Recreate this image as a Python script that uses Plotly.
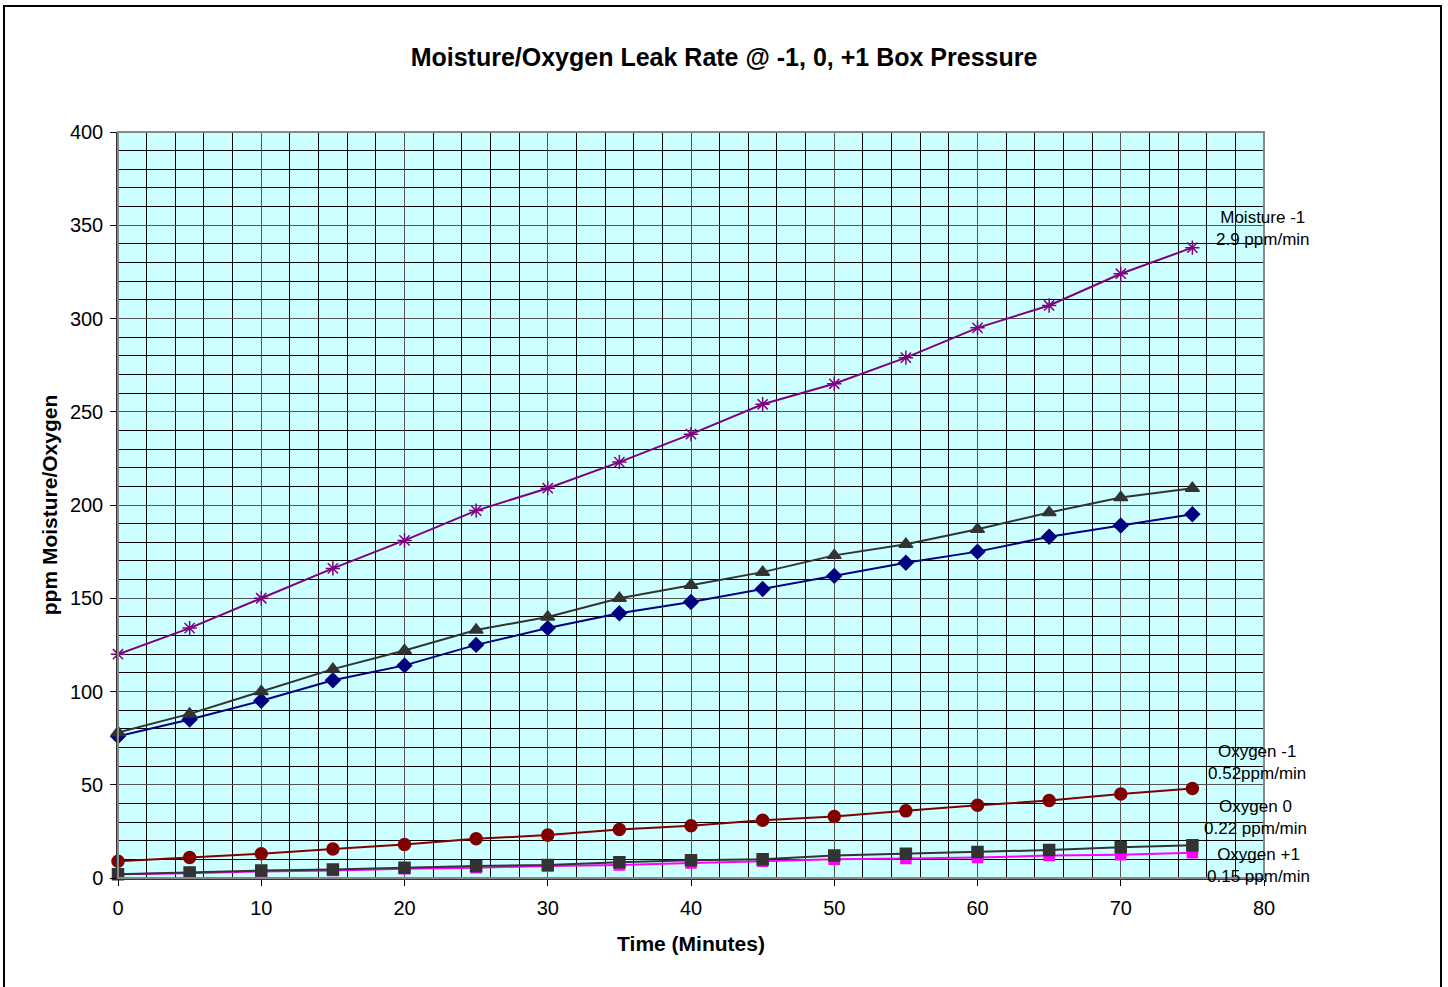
import plotly.graph_objects as go

time_min = [0, 5, 10, 15, 20, 25, 30, 35, 40, 45, 50, 55, 60, 65, 70, 75]
moisture_m1 = [120, 134, 150, 166, 181, 197, 209, 223, 238, 254, 265, 279, 295, 307, 324, 338]
moisture_0 = [78, 88, 100, 112, 122, 133, 140, 150, 157, 164, 173, 179, 187, 196, 204, 209]
moisture_p1 = [76, 85, 95, 106, 114, 125, 134, 142, 148, 155, 162, 169, 175, 183, 189, 195]
oxygen_m1 = [9, 11, 13, 15.5, 18, 21, 23, 26, 28, 31, 33, 36, 39, 41.5, 45, 48]
oxygen_0 = [2, 3, 4, 4.5, 5.5, 6.5, 7, 8.5, 9.5, 10, 12, 13, 14, 15, 16.5, 17.5]
oxygen_p1 = [2, 2.5, 3.5, 4, 5, 5.5, 6.5, 7, 8, 9, 10, 10.5, 11, 12, 12.5, 13.5]

labels = [
    ("Moisture -1<br>2.9 ppm/min", 79.9, 348.5),
    ("Moisture 0<br>1.7 ppm/min", 80.35, 221.4),
    ("Moisture +1<br>1.6 ppm/min", 80.8, 187.4),
    ("Oxygen -1<br>0.52ppm/min", 79.5, 62.2),
    ("Oxygen 0<br>0.22 ppm/min", 79.4, 32.2),
    ("Oxygen +1<br>0.15 ppm/min", 79.65, 6.7),
]

FONT = "Liberation Sans, Arial, sans-serif"

fig = go.Figure()
series = [
    (oxygen_p1, "Oxygen +1", "#ff00ff", "square", 10),
    (oxygen_0, "Oxygen 0", "#333333", "square", 11),
    (oxygen_m1, "Oxygen -1", "#800000", "circle", 12),
    (moisture_p1, "Moisture +1", "#000080", "diamond", 11),
    (moisture_0, "Moisture 0", "#333333", "triangle-up", 12),
    (moisture_m1, "Moisture -1", "#800080", "asterisk-open", 12),
]
for ys, name, col, sym, sz in series:
    fig.add_trace(go.Scatter(
        x=time_min, y=ys, name=name, mode="lines+markers",
        line=dict(color=col, width=2),
        marker=dict(symbol=sym, size=sz, color=col, line=dict(color=col, width=1.5)),
        showlegend=False, cliponaxis=False,
    ))

for txt, xv, yv in labels:
    fig.add_annotation(x=xv, y=yv, text=txt, showarrow=False, xanchor="center", yanchor="middle",
                       font=dict(family=FONT, size=17, color="black"), align="center")

# outer frame
fig.add_shape(type="rect", xref="paper", yref="paper",
              x0=(4 - 118) / 1146, x1=(1441 - 118) / 1146,
              y0=(878 - 992) / 746, y1=(878 - 6) / 746,
              line=dict(color="black", width=2), fillcolor="rgba(0,0,0,0)", layer="below")

fig.update_layout(
    width=1448, height=987,
    margin=dict(l=118, r=184, t=132, b=109),
    paper_bgcolor="white", plot_bgcolor="#ccffff",
    font=dict(family=FONT, color="black"),
    title=dict(text="<b>Moisture/Oxygen Leak Rate @ -1, 0, +1 Box Pressure</b>",
               x=0.5, xref="container", y=1 - 57 / 987, yanchor="middle",
               font=dict(size=25, family=FONT, color="black")),
    xaxis=dict(range=[0, 80], dtick=10, tick0=0, showgrid=True, gridcolor="#555555", gridwidth=1,
               minor=dict(dtick=2, showgrid=True, gridcolor="black", gridwidth=1),
               ticks="outside", ticklen=6, tickcolor="black", ticklabelstandoff=5,
               showline=True, linecolor="#333333", linewidth=1.5, mirror=False,
               zeroline=False, tickfont=dict(size=20, family=FONT),
               title=dict(text="<b>Time (Minutes)</b>", font=dict(size=21, family=FONT), standoff=19)),
    yaxis=dict(range=[0, 400], dtick=50, tick0=0, showgrid=True, gridcolor="#555555", gridwidth=1,
               minor=dict(dtick=10, showgrid=True, gridcolor="black", gridwidth=1),
               ticks="outside", ticklen=6, tickcolor="black", ticklabelstandoff=3,
               showline=True, linecolor="#333333", linewidth=1.5,
               zeroline=False, tickfont=dict(size=20, family=FONT),
               title=dict(text="<b>ppm Moisture/Oxygen</b>", font=dict(size=21, family=FONT), standoff=7)),
)
# plot-area gray border
fig.add_shape(type="rect", xref="paper", yref="paper", x0=0, x1=1, y0=0, y1=1,
              line=dict(color="#888888", width=2), fillcolor="rgba(0,0,0,0)", layer="above")

fig.write_html("out.html", config={"displayModeBar": False},
               post_script="document.body.style.margin='0';document.body.style.overflow='hidden';")
